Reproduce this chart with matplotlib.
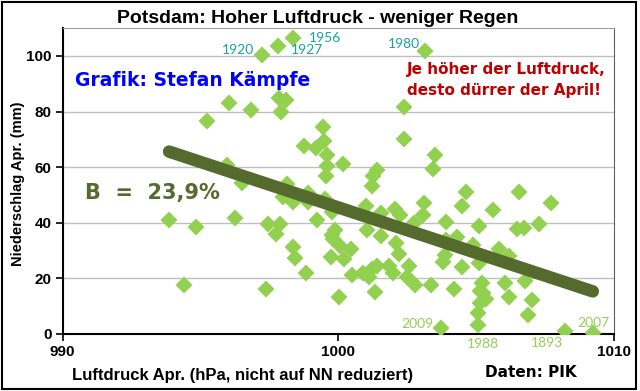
import numpy as np
import matplotlib
matplotlib.use("Agg")
import matplotlib.pyplot as plt
from matplotlib.patches import Rectangle

# Luftdruck April (hPa) und Niederschlag April (mm), Potsdam
druck = [997.23, 997.81, 998.34, 1003.15, 996.04, 996.83, 995.23, 997.85, 998.12, 997.91,
         999.45, 998.74, 999.18, 999.50, 999.58, 999.60, 1000.18, 999.55, 995.98, 1002.39,
         1002.39, 1003.50, 1003.44, 1001.39, 1001.27, 993.86, 994.82, 996.25, 994.41, 996.49,
         997.44, 997.89, 997.73, 998.36, 998.43, 998.84, 997.37, 1000.02, 999.22, 998.15,
         998.00, 998.36, 998.89, 998.91, 999.52, 999.76, 999.76, 999.90, 999.80, 1000.07,
         999.73, 1000.21, 1000.45, 1000.50, 1001.21, 1000.99, 1001.05, 1001.57, 1001.55, 1002.05,
         1002.23, 1002.11, 1002.20, 1003.10, 1003.08, 1002.75, 1000.90, 1001.21, 1001.39, 1001.11,
         1001.33, 1001.83, 1001.99, 1002.50, 1002.56, 1002.80, 1003.36, 1003.72, 1004.65, 1004.49,
         1003.90, 1006.55, 1007.74, 1005.62, 1005.11, 1006.47, 1006.74, 1007.29, 1004.31, 1003.90,
         1003.87, 1003.80, 1004.89, 1005.11, 1004.51, 1005.82, 1006.19, 1004.19, 1005.23, 1005.14,
         1005.26, 1005.38, 1005.16, 1005.07, 1005.07, 1006.04, 1006.19, 1006.79, 1007.05, 1006.90,
         1008.22, 1009.24]
regen = [100.4, 103.6, 106.6, 101.7, 82.9, 80.4, 76.5, 84.7, 84.2, 79.9,
         74.5, 67.6, 66.9, 69.4, 64.3, 60.5, 61.0, 56.7, 60.9, 81.8,
         70.3, 64.3, 59.3, 58.8, 56.8, 41.0, 38.6, 41.6, 17.7, 54.3,
         39.7, 39.7, 36.1, 31.3, 27.3, 22.0, 16.1, 13.4, 41.1, 54.0,
         49.2, 47.4, 50.6, 47.4, 48.6, 43.8, 35.5, 37.3, 34.1, 31.5,
         27.7, 26.8, 30.5, 21.2, 53.3, 46.1, 37.4, 43.4, 35.2, 44.9,
         42.8, 32.6, 28.7, 47.0, 42.8, 40.0, 21.9, 23.4, 24.6, 20.3,
         14.9, 24.3, 21.9, 20.3, 24.3, 17.7, 17.7, 2.3, 50.9, 46.1,
         40.1, 51.1, 47.0, 44.4, 38.8, 37.6, 38.0, 39.7, 35.0, 33.8,
         28.4, 26.0, 32.0, 25.4, 23.9, 30.5, 28.2, 16.1, 18.3, 15.5,
         14.7, 12.7, 11.1, 7.5, 3.3, 18.3, 13.3, 18.9, 12.2, 6.9,
         1.0, 0.4]

hellgruen = "#92D050"
olive = "#556B2D"
tuerkis = "#17A2A2"

fig = plt.figure(figsize=(6.4, 3.91), dpi=100)
ax = fig.add_axes([0.098, 0.146, 0.861, 0.782])

ax.plot(druck, regen, linestyle="none", marker="D", markersize=7,
        color=hellgruen, markeredgecolor=hellgruen, markeredgewidth=1.5, zorder=3)

# lineare Regression
x = np.array(druck)
y = np.array(regen)
m, b = np.polyfit(x, y, 1)
xt = np.array([x.min(), x.max()])
ax.plot(xt, m * xt + b, color=olive, linewidth=9, solid_capstyle="round", zorder=4)

ax.set_xlim(990, 1010)
ax.set_ylim(0, 110)
ax.set_xticks([990, 1000, 1010])
ax.set_yticks([0, 20, 40, 60, 80, 100])
ax.yaxis.grid(True, color="#bfbfbf", linewidth=1)
ax.set_axisbelow(True)
ax.tick_params(direction="out", length=5, width=1.2, labelsize=11, pad=3)
for lab in ax.get_xticklabels() + ax.get_yticklabels():
    lab.set_fontweight("bold")
    lab.set_family("Liberation Sans")
ax.spines["left"].set_linewidth(1.5)
ax.spines["bottom"].set_linewidth(1.5)
ax.spines["top"].set_color("#a0a0a0")
ax.spines["right"].set_color("#606060")

ax.set_xlabel("Luftdruck Apr. (hPa, nicht auf NN reduziert)", fontsize=12,
              fontweight="bold", family="Liberation Sans")
ax.xaxis.set_label_coords(0.327, -0.112)
ax.set_ylabel("Niederschlag Apr. (mm)", fontsize=10.5, fontweight="bold",
              family="Liberation Sans")
ax.yaxis.set_label_coords(-0.069, 0.49)

fig.text(0.496, 0.953, "Potsdam: Hoher Luftdruck - weniger Regen", ha="center",
         va="center", fontsize=14, fontweight="bold", family="Liberation Sans")

ax.text(990.45, 91.0, "Grafik: Stefan Kämpfe", color="#0000FF", fontsize=13.5,
        fontweight="heavy", family="DejaVu Sans", va="center", ha="left")
ax.text(1002.49, 91.4, "Je höher der Luftdruck,\ndesto dürrer der April!", color="#C00000",
        fontsize=11, fontweight="heavy", family="DejaVu Sans", va="center", ha="left",
        linespacing=1.45)
ax.text(990.81, 50.6, "B  =  23,9%", color=olive, fontsize=15, fontweight="heavy",
        family="DejaVu Sans", va="center", ha="left")
fig.text(0.83, 0.048, "Daten: PIK", fontsize=11, fontweight="heavy",
         family="DejaVu Sans", ha="center", va="center")

# Jahreszahlen
ax.text(996.94, 102.2, "1920", color=tuerkis, fontsize=10, family="Lato",
        ha="right", va="center")
ax.text(998.28, 102.2, "1927", color=tuerkis, fontsize=10, family="Lato",
        ha="left", va="center")
ax.text(998.93, 106.6, "1956", color=tuerkis, fontsize=10, family="Lato",
        ha="left", va="center")
ax.text(1002.96, 104.2, "1980", color=tuerkis, fontsize=10, family="Lato",
        ha="right", va="center")
ax.text(1003.47, 3.6, "2009", color=hellgruen, fontsize=10, family="Lato",
        ha="right", va="center")
ax.text(1009.27, 4.05, "2007", color=hellgruen, fontsize=10, family="Lato",
        ha="center", va="center")
ax.text(1005.26, -3.6, "1988", color=hellgruen, fontsize=10, family="Lato",
        ha="center", va="center", clip_on=False)
ax.text(1007.57, -3.3, "1893", color=hellgruen, fontsize=10, family="Lato",
        ha="center", va="center", clip_on=False)

# Rahmen
fig.patches.append(Rectangle((0.003, 0.005), 0.99, 0.99, transform=fig.transFigure,
                             fill=False, edgecolor="black", linewidth=1.5))

fig.savefig("out.png", dpi=100)
